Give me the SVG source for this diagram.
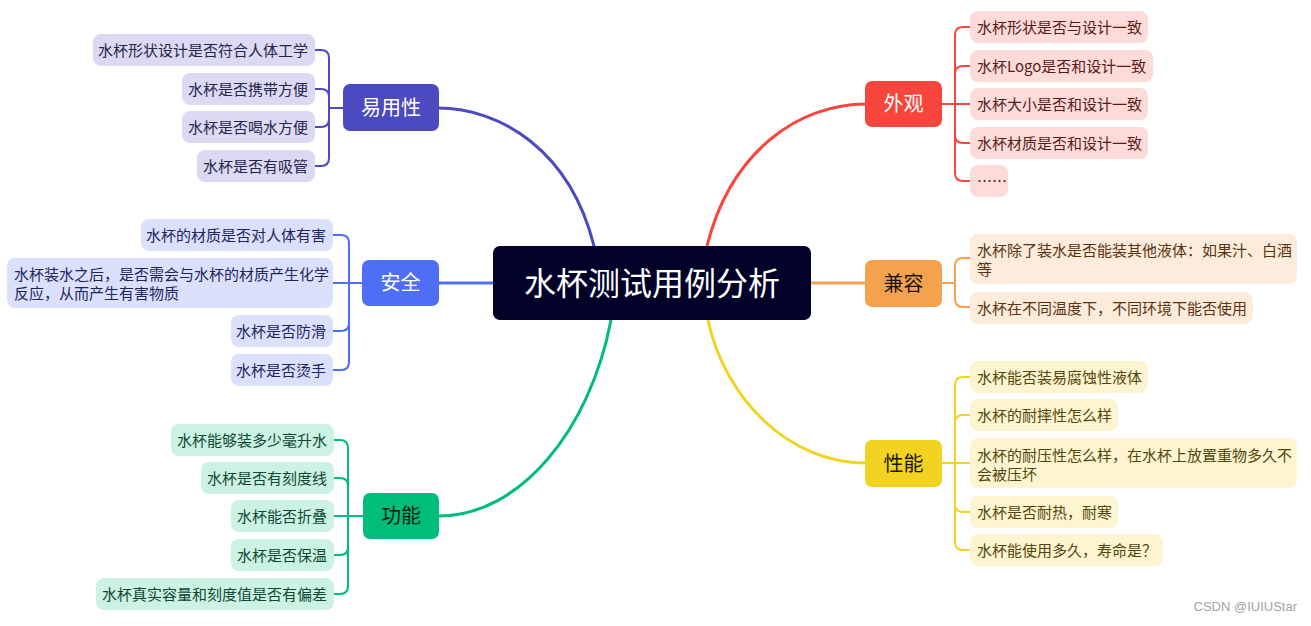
<svg xmlns="http://www.w3.org/2000/svg" width="1311" height="626" viewBox="0 0 1311 626">
<style>
text{font-family:"Noto Sans CJK SC","Noto Sans",sans-serif}
.ct{font-size:32px;fill:#ffffff;text-anchor:middle}
.bt{font-size:20px;text-anchor:middle}
.lt{font-size:15px}
.r{text-anchor:end}
.main{fill:none;stroke-width:3;stroke-linecap:round}
.br{fill:none;stroke-width:2}
.pu{stroke:#4c4ac0}.bl{stroke:#4f6ef6}.gr{stroke:#00bd79}.rd{stroke:#f9463d}.or{stroke:#f5a24e}.ye{stroke:#f2d322}
</style>
<rect width="1311" height="626" fill="#ffffff"/>
<g id="connectors">
<path class="main pu" d="M438,108 C500,108 570,150 594,246"/>
<path class="main rd" d="M707,246 C731,150 800,104 866,104"/>
<path class="main bl" d="M439,283 L493,283"/>
<path class="main or" d="M811,283 L865,283"/>
<path class="main gr" d="M611,320 C590,430 520,516 439,516"/>
<path class="main ye" d="M708,320 C725,400 790,463 865,463"/>
<path class="br pu" d="M343,108H329 M329,108V58Q329,50 321,50H315 M329,108V97Q329,89 321,89H315 M329,108V119Q329,127 321,127H315 M329,108V158Q329,166 321,166H315"/>
<path class="br bl" d="M362,283H333 M349,283V243Q349,235 341,235H333 M349,283V323Q349,331 341,331H333 M349,283V362Q349,370 341,370H333"/>
<path class="br gr" d="M363,516H334 M348,516V448Q348,440 340,440H334 M348,516V486Q348,478 340,478H334 M348,516V547Q348,555 340,555H334 M348,516V586Q348,594 340,594H334"/>
<path class="br rd" d="M942,104H970 M955,104V35Q955,27 963,27H970 M955,104V74Q955,66 963,66H970 M955,104V135Q955,143 963,143H970 M955,104V173Q955,181 963,181H970"/>
<path class="br or" d="M942,283H955 M955,283V266Q955,258 963,258H970 M955,283V299Q955,307 963,307H970"/>
<path class="br ye" d="M942,463H970 M955,463V385Q955,377 963,377H970 M955,463V423Q955,415 963,415H970 M955,463V504Q955,512 963,512H970 M955,463V542Q955,550 963,550H970"/>
</g>
<g id="center">
<rect x="493" y="246" width="318" height="74" rx="7" fill="#020228"/>
<text class="ct" x="652" y="295">水杯测试用例分析</text>
</g>
<g id="yiyongxing">
<rect x="343" y="84" width="96" height="47" rx="7" fill="#4c4ac0"/>
<text class="bt" x="391" y="115" fill="#ffffff">易用性</text>
<g fill="#dcdaf2"><rect x="93" y="34" width="222" height="32" rx="8"/><rect x="182" y="73" width="133" height="32" rx="8"/><rect x="182" y="111" width="133" height="32" rx="8"/><rect x="197" y="150" width="118" height="32" rx="8"/></g>
<g fill="#25244f" class="lt r"><text x="308" y="55.5">水杯形状设计是否符合人体工学</text><text x="308" y="94.5">水杯是否携带方便</text><text x="308" y="132.5">水杯是否喝水方便</text><text x="308" y="171.5">水杯是否有吸管</text></g>
</g>
<g id="anquan">
<rect x="362" y="260" width="77" height="46" rx="7" fill="#4f6ef6"/>
<text class="bt" x="400.5" y="290" fill="#ffffff">安全</text>
<g fill="#dbe1fd"><rect x="141" y="219" width="192" height="32" rx="8"/><rect x="7" y="258" width="326" height="50" rx="8"/><rect x="231" y="315" width="102" height="32" rx="8"/><rect x="231" y="354" width="102" height="32" rx="8"/></g>
<g fill="#1d2560" class="lt"><text class="r" x="326" y="240.5">水杯的材质是否对人体有害</text><text x="14" y="280">水杯装水之后，是否需会与水杯的材质产生化学</text><text x="14" y="299">反应，从而产生有害物质</text><text class="r" x="326" y="336.5">水杯是否防滑</text><text class="r" x="326" y="375.5">水杯是否烫手</text></g>
</g>
<g id="gongneng">
<rect x="363" y="493" width="76" height="46" rx="7" fill="#00bd79"/>
<text class="bt" x="401" y="523" fill="#0d1a14">功能</text>
<g fill="#ccf2e3"><rect x="171" y="424" width="163" height="32" rx="8"/><rect x="201" y="462" width="133" height="32" rx="8"/><rect x="231" y="500" width="103" height="32" rx="8"/><rect x="231" y="539" width="103" height="32" rx="8"/><rect x="96" y="578" width="238" height="32" rx="8"/></g>
<g fill="#0c4832" class="lt r"><text x="327" y="445.5">水杯能够装多少毫升水</text><text x="327" y="483.5">水杯是否有刻度线</text><text x="327" y="521.5">水杯能否折叠</text><text x="327" y="560.5">水杯是否保温</text><text x="327" y="599.5">水杯真实容量和刻度值是否有偏差</text></g>
</g>
<g id="waiguan">
<rect x="865" y="81" width="77" height="46" rx="7" fill="#f9463d"/>
<text class="bt" x="903.5" y="111" fill="#ffffff">外观</text>
<g fill="#fddbd9"><rect x="970" y="11" width="178" height="32" rx="8"/><rect x="970" y="50" width="183" height="32" rx="8"/><rect x="970" y="88" width="178" height="32" rx="8"/><rect x="970" y="127" width="178" height="32" rx="8"/><rect x="970" y="165" width="38" height="32" rx="8"/></g>
<g fill="#5a1a16" class="lt"><text x="977" y="32.5">水杯形状是否与设计一致</text><text x="977" y="71.5">水杯Logo是否和设计一致</text><text x="977" y="109.5">水杯大小是否和设计一致</text><text x="977" y="148.5">水杯材质是否和设计一致</text><text x="977" y="187">……</text></g>
</g>
<g id="jianrong">
<rect x="865" y="260" width="77" height="47" rx="7" fill="#f5a24e"/>
<text class="bt" x="903.5" y="290.5" fill="#1a1207">兼容</text>
<g fill="#fdebdb"><rect x="970" y="234" width="327" height="50" rx="8"/><rect x="970" y="292" width="283" height="32" rx="8"/></g>
<g fill="#5a3410" class="lt"><text x="977" y="256">水杯除了装水是否能装其他液体：如果汁、白酒</text><text x="977" y="275">等</text><text x="977" y="313.5">水杯在不同温度下，不同环境下能否使用</text></g>
</g>
<g id="xingneng">
<rect x="865" y="440" width="77" height="47" rx="7" fill="#f2d322"/>
<text class="bt" x="903.5" y="470.5" fill="#1a1603">性能</text>
<g fill="#fdf5d2"><rect x="970" y="361" width="178" height="32" rx="8"/><rect x="970" y="399" width="148" height="32" rx="8"/><rect x="970" y="438" width="327" height="50" rx="8"/><rect x="970" y="496" width="148" height="32" rx="8"/><rect x="970" y="534" width="193" height="32" rx="8"/></g>
<g fill="#554508" class="lt"><text x="977" y="382.5">水杯能否装易腐蚀性液体</text><text x="977" y="420.5">水杯的耐摔性怎么样</text><text x="977" y="460.5">水杯的耐压性怎么样，在水杯上放置重物多久不</text><text x="977" y="480">会被压坏</text><text x="977" y="517.5">水杯是否耐热，耐寒</text><text x="977" y="555.5">水杯能使用多久，寿命是？</text></g>
</g>
<text x="1297" y="611" font-family="Liberation Sans, Arial, sans-serif" font-size="13" fill="#a3a3a3" text-anchor="end" style="font-family:'Liberation Sans',Arial,sans-serif">CSDN @IUIUStar</text>
</svg>
